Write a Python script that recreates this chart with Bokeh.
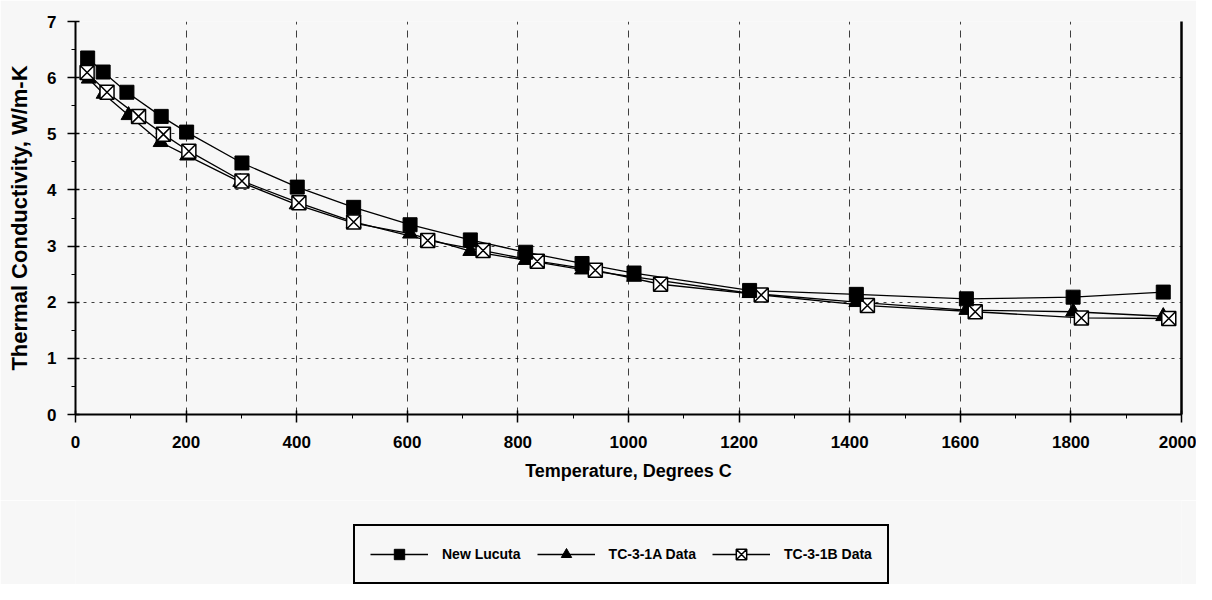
from bokeh.plotting import figure
from bokeh.layouts import column
from bokeh.models import (Range1d, LinearAxis, Legend, LegendItem, SingleIntervalTicker,
                          FixedTicker, ColumnDataSource)
from bokeh.embed import file_html
from bokeh.resources import INLINE

# ---- data ----
lucuta_t = [22, 50, 93, 155, 201, 301, 401, 503, 605, 714, 814, 916, 1010, 1219, 1412, 1611, 1804, 1967]
lucuta_k = [6.35, 6.10, 5.74, 5.31, 5.03, 4.48, 4.05, 3.69, 3.38, 3.11, 2.89, 2.69, 2.52, 2.21, 2.14, 2.06, 2.09, 2.18]

tc1a_t = [24, 51, 96, 154, 202, 298, 400, 503, 605, 714, 814, 916, 1010, 1219, 1412, 1611, 1804, 1967]
tc1a_k = [5.98, 5.71, 5.33, 4.85, 4.61, 4.14, 3.74, 3.41, 3.22, 2.91, 2.75, 2.58, 2.45, 2.16, 2.00, 1.86, 1.83, 1.75]

tc1b_t = [21, 57, 114, 159, 205, 301, 404, 503, 637, 737, 835, 940, 1058, 1240, 1432, 1627, 1819, 1977]
tc1b_k = [6.09, 5.74, 5.31, 4.99, 4.69, 4.16, 3.77, 3.43, 3.10, 2.92, 2.73, 2.57, 2.32, 2.13, 1.94, 1.83, 1.72, 1.71]

series_names = ["New Lucuta", "TC-3-1A Data", "TC-3-1B Data"]
x_title = "Temperature, Degrees C"
y_title = "Thermal Conductivity, W/m-K"

BG = "#f7f7f7"
FONT = "Liberation Sans"

p = figure(width=1196, height=500, output_backend="svg", toolbar_location=None,
           x_range=Range1d(0, 2000), y_range=Range1d(0, 7),
           min_border_left=75, min_border_right=15, min_border_top=21, min_border_bottom=86,
           background_fill_color=BG, border_fill_color=BG, outline_line_color=None)

# axes
for ax in (p.xaxis[0], p.yaxis[0]):
    ax.axis_line_width = 2
    ax.axis_line_color = "black"
    ax.major_tick_line_color = "black"
    ax.major_tick_line_width = 1.5
    ax.minor_tick_line_color = "black"
    ax.major_tick_in = 4
    ax.major_tick_out = 8
    ax.minor_tick_in = 0
    ax.minor_tick_out = 4
    ax.major_label_text_font = FONT
    ax.major_label_text_font_style = "bold"
    ax.major_label_text_font_size = "17px"
    ax.major_label_text_color = "black"
    ax.axis_label_text_font = FONT
    ax.axis_label_text_font_style = "bold"
    ax.axis_label_text_color = "black"

p.xaxis[0].ticker = SingleIntervalTicker(interval=200, num_minor_ticks=2)
p.yaxis[0].ticker = SingleIntervalTicker(interval=1, num_minor_ticks=2)
p.xaxis[0].axis_label = x_title
p.yaxis[0].axis_label = y_title
p.xaxis[0].axis_label_text_font_size = "18px"
p.yaxis[0].axis_label_text_font_size = "22px"
p.xaxis[0].major_label_standoff = 13
p.yaxis[0].major_label_standoff = 11
p.xaxis[0].axis_label_standoff = 10
p.yaxis[0].axis_label_standoff = 12

# right border as an empty axis
rax = LinearAxis(ticker=FixedTicker(ticks=[]), major_tick_in=0, major_tick_out=0,
                 minor_tick_in=0, minor_tick_out=0,
                 axis_line_width=2.5, axis_line_color="black")
p.add_layout(rax, "right")

# grids
p.xgrid.ticker = SingleIntervalTicker(interval=200)
p.ygrid.ticker = SingleIntervalTicker(interval=1)
p.xgrid.grid_line_color = "black"
p.xgrid.grid_line_dash = "7 6"
p.xgrid.grid_line_width = 1
p.xgrid.grid_line_alpha = 0.75
p.ygrid.grid_line_color = "black"
p.ygrid.grid_line_dash = "3 5"
p.ygrid.grid_line_width = 1
p.ygrid.grid_line_alpha = 0.75

# series
s1 = ColumnDataSource(dict(x=lucuta_t, y=lucuta_k))
s2 = ColumnDataSource(dict(x=tc1a_t, y=tc1a_k))
s3 = ColumnDataSource(dict(x=tc1b_t, y=tc1b_k))

line_kw = dict(line_color="black", line_width=1.3)
tri_kw = dict(marker="triangle", size=15, fill_color="black", line_color="black")
sqx_kw = dict(marker="square_x", size=14, fill_color="white", line_color="black", line_width=1.5)
sq_kw = dict(marker="square", size=14, fill_color="black", line_color="black")

p.line("x", "y", source=s1, **line_kw)
p.line("x", "y", source=s2, **line_kw)
p.line("x", "y", source=s3, **line_kw)
p.scatter("x", "y", source=s2, **tri_kw)
p.scatter("x", "y", source=s3, **sqx_kw)
p.scatter("x", "y", source=s1, **sq_kw)

# ---- legend strip (separate figure below; its renderers lie outside its view) ----
lg = figure(width=1196, height=84, output_backend="svg", toolbar_location=None,
            x_range=Range1d(-2, -1), y_range=Range1d(-2, -1),
            x_axis_location=None, y_axis_location=None,
            min_border_left=0, min_border_right=0, min_border_top=0, min_border_bottom=0,
            background_fill_color=BG, border_fill_color=BG, outline_line_color=None)
lg.xgrid.visible = False
lg.ygrid.visible = False
r1 = [lg.line("x", "y", source=s1, **line_kw), lg.scatter("x", "y", source=s1, **sq_kw)]
r2 = [lg.line("x", "y", source=s2, **line_kw), lg.scatter("x", "y", source=s2, **tri_kw)]
r3 = [lg.line("x", "y", source=s3, **line_kw), lg.scatter("x", "y", source=s3, **sqx_kw)]

legend = Legend(items=[LegendItem(label=series_names[0], renderers=r1),
                       LegendItem(label=series_names[1], renderers=r2),
                       LegendItem(label=series_names[2], renderers=r3)],
                orientation="horizontal", location=(278, 0),
                border_line_color="black", border_line_width=2, border_line_alpha=1,
                background_fill_color=BG, background_fill_alpha=1,
                label_text_font=FONT, label_text_font_style="bold", label_text_font_size="14px",
                label_text_color="black",
                glyph_width=58, glyph_height=26, label_standoff=14, spacing=16, padding=15,
                margin=0)
lg.add_layout(legend, "center")

layout = column(p, lg, spacing=0)
open("out.html", "w").write(file_html(layout, INLINE))
